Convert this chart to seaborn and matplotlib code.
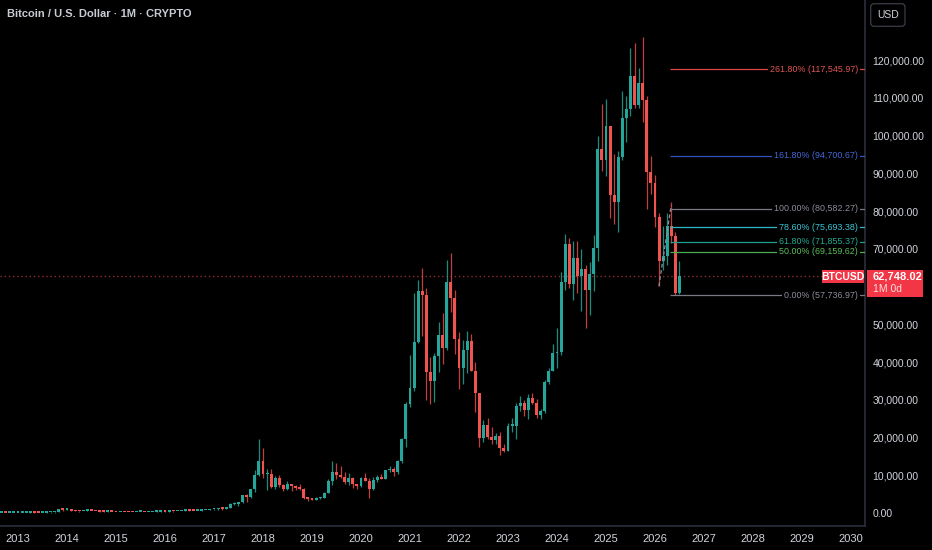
import numpy as np
import pandas as pd
import matplotlib
matplotlib.use("Agg")
import matplotlib.pyplot as plt
import matplotlib.transforms as mtransforms
from matplotlib.patches import Rectangle
import seaborn as sns

# monthly candles, Aug 2012 .. Jul 2026 (USD)
first_month = 2012 + 7 / 12
opens = [
    9.4, 10.1, 12.4, 11.2, 12.6,
    13.3, 20.4, 33.0, 93.0, 139, 129, 97, 106, 140, 141, 206, 1130,
    805, 829, 573, 457, 447, 628, 640, 587, 477, 388, 338, 378,
    318, 218, 254, 244, 236, 230, 264, 284, 230, 236, 314, 377,
    430, 368, 436, 416, 448, 531, 673, 624, 573, 609, 698, 743,
    963, 970, 1190, 1080, 1348, 2300, 2480, 2870, 4730, 4340, 6450, 10000,
    13860, 10220, 10330, 6930, 9240, 7500, 6400, 7730, 7040, 6630, 6370, 4040,
    3740, 3460, 3850, 4100, 5320, 8560, 10820, 10090, 9600, 8290, 9150, 7570,
    7190, 9350, 8540, 6410, 8640, 9450, 9140, 11350, 11660, 10780, 13800, 19700,
    28990, 33110, 45200, 58800, 57750, 37300, 35050, 41500, 47100, 43800, 61300, 57000,
    46200, 38500, 43200, 45500, 37700, 31800, 19900, 23300, 20050, 19430, 20500, 17160,
    16540, 23130, 23150, 28480, 29250, 27220, 30480, 29230, 25940, 26970, 34650, 37720,
    42280, 42580, 61130, 71330, 60640, 67500, 62700, 64600, 58970, 63300, 70200, 96400,
    93400, 102400, 84350, 82500, 94200, 104600, 107100, 115800, 108200, 114000, 109500, 90400,
    87500, 78400, 66800, 68000, 76000, 73400, 58300,
]
highs = [
    13.5, 12.9, 12.8, 13.2, 13.5,
    20.4, 33.0, 95, 266, 140, 129, 110, 140, 150, 213, 1163, 1163,
    1000, 869, 718, 542, 629, 680, 650, 600, 490, 415, 460, 384,
    318, 270, 300, 262, 248, 268, 320, 288, 246, 333, 502, 467,
    462, 446, 440, 468, 550, 780, 704, 626, 627, 720, 757, 975,
    1160, 1210, 1300, 1350, 2780, 3000, 2950, 4750, 5000, 6470, 11400, 19700,
    17180, 11780, 11700, 9770, 10000, 7770, 8500, 7760, 7410, 7680, 6590, 4250,
    4100, 4200, 4110, 5640, 9000, 13880, 13200, 12330, 10940, 10540, 9510, 7750,
    9580, 10500, 9190, 9460, 10080, 10380, 11450, 12470, 12080, 14100, 19850, 29300,
    41950, 58350, 61800, 64900, 59600, 41300, 42300, 50500, 52900, 67000, 69000, 59100,
    47990, 45800, 48200, 47500, 40000, 31900, 24700, 25200, 22800, 21100, 21480, 18400,
    23950, 25250, 29200, 31000, 29850, 31400, 31800, 30200, 27480, 35200, 38400, 44700,
    48970, 63900, 73800, 72800, 72000, 72000, 70000, 65600, 66500, 73600, 99800, 108300,
    109600, 102500, 95000, 95800, 111900, 110600, 123200, 124500, 117900, 126200, 110600, 94600,
    89500, 79500, 76000, 79500, 82500, 74500, 66800,
]
lows = [
    7.5, 9.8, 10.5, 10.5, 12.4,
    13.2, 19.6, 33.0, 50, 79, 88, 65, 100, 95, 104, 197, 455,
    750, 420, 450, 340, 421, 541, 565, 445, 375, 275, 323, 300,
    152, 210, 236, 200, 225, 219, 253, 195, 225, 235, 297, 350,
    350, 365, 393, 413, 437, 511, 606, 471, 565, 603, 674, 742,
    750, 915, 890, 1060, 1350, 2100, 1840, 2690, 2970, 4100, 5500, 9900,
    9400, 6000, 6600, 6430, 7000, 5790, 6070, 5880, 6100, 6100, 3600, 3120,
    3350, 3380, 3700, 4050, 5330, 7470, 9070, 9320, 7730, 7310, 6520, 6430,
    6870, 8460, 3850, 6150, 8120, 8950, 8980, 10990, 9880, 10370, 13200, 17600,
    28130, 32300, 45000, 47000, 30000, 28800, 29300, 37300, 39600, 43300, 53250, 42000,
    32900, 34300, 37200, 37600, 26700, 17600, 18800, 19600, 18150, 18200, 15480, 16250,
    16500, 21400, 19570, 26950, 25800, 24800, 28850, 25200, 24900, 26550, 34100, 37600,
    38500, 41880, 59000, 59600, 56500, 58400, 53500, 49000, 52500, 58900, 66800, 90500,
    89200, 78200, 76600, 74400, 93400, 98200, 105100, 107300, 107300, 103500, 80600, 84400,
    75800, 60100, 64400, 65700, 71500, 57737, 57900,
]
closes = [
    10.1, 12.4, 11.2, 12.6, 13.3,
    20.4, 33.0, 93.0, 139, 129, 97, 106, 140, 141, 206, 1130, 805,
    829, 573, 457, 447, 628, 640, 587, 477, 388, 338, 378, 318,
    218, 254, 244, 236, 230, 264, 284, 230, 236, 314, 377, 430,
    368, 436, 416, 448, 531, 673, 624, 573, 609, 698, 743, 963,
    970, 1190, 1080, 1348, 2300, 2480, 2870, 4730, 4340, 6450, 10000, 13860,
    10220, 10330, 6930, 9240, 7500, 6400, 7730, 7040, 6630, 6370, 4040, 3740,
    3460, 3850, 4100, 5320, 8560, 10820, 10090, 9600, 8290, 9150, 7570, 7190,
    9350, 8540, 6410, 8640, 9450, 9140, 11350, 11660, 10780, 13800, 19700, 28990,
    33110, 45200, 58800, 57750, 37300, 35050, 41500, 47100, 43800, 61300, 57000, 46200,
    38500, 43200, 45500, 37700, 31800, 19900, 23300, 20050, 19430, 20500, 17160, 16540,
    23130, 23150, 28480, 29250, 27220, 30480, 29230, 25940, 26970, 34650, 37720, 42280,
    42580, 61130, 71330, 60640, 67500, 62700, 64600, 58970, 63300, 70200, 96400, 93400,
    102400, 84350, 82500, 94200, 104600, 107100, 115800, 108200, 114000, 109500, 90400, 87500,
    78400, 66800, 68000, 76000, 73400, 58300, 62748.02,
]

fib_pcts = ["261.80%", "161.80%", "100.00%", "78.60%", "61.80%", "50.00%", "0.00%"]
fib_values = [117545.97, 94700.67, 80582.27, 75693.38, 71855.37, 69159.62, 57736.97]
fib_colors = ["#d84a4a", "#3452c0", "#787b86", "#2fb8c8", "#1f9f8f", "#4caf50", "#787b86"]
fib_text_colors = ["#e05555", "#4468d8", "#8c8f99", "#3ac6d6", "#22ab94", "#5cbf5c", "#8c8f99"]
fib_start = 2026.31
fib_anchor_x = [2026.08, 2026.33]
fib_anchor_y = [60100, 81500]

last_price = closes[-1]
year_ticks = list(range(2013, 2031))
price_ticks = list(range(0, 130000, 10000))
hidden_tick = 60000  # covered by the last-price label

df = pd.DataFrame({"open": opens, "high": highs, "low": lows, "close": closes})
df["t"] = first_month + np.arange(len(df)) / 12.0
df["up"] = df["close"] >= df["open"]

up_col, down_col = "#26a69a", "#f05350"
up_wick, down_wick = "#1c8a7e", "#c03f3f"

sns.set_theme(style="dark", rc={
    "axes.facecolor": "black", "figure.facecolor": "black",
    "axes.edgecolor": "#2a2e39", "text.color": "#d1d4dc",
    "xtick.color": "#d1d4dc", "ytick.color": "#d1d4dc",
})
plt.rcParams["font.family"] = ["Liberation Sans", "DejaVu Sans"]

fig = plt.figure(figsize=(9.32, 5.5), dpi=100)
ax = fig.add_axes([0, 24 / 550, 865 / 932, 526 / 550])
ax.set_facecolor("black")

ax.vlines(df["t"], df["low"], df["high"],
          colors=np.where(df["up"], up_wick, down_wick), lw=0.9, zorder=2)
body = (df["close"] - df["open"]).abs().clip(lower=420)
ax.bar(df["t"], body, bottom=df[["open", "close"]].min(axis=1), width=0.06,
       color=np.where(df["up"], up_col, down_col), linewidth=0, zorder=3)

ax.set_xlim(2012.633, 2030.286)
ax.set_ylim(-3440, 135900)

# current price line
ax.axhline(last_price, color="#c23a3a", lw=1, ls=(0, (1, 2)), alpha=0.75, zorder=1)

# fibonacci retracement
ax.plot(fib_anchor_x, fib_anchor_y, color="#8c8f99", lw=0.9, ls=(0, (3, 2)), zorder=4)
x_right = ax.get_xlim()[1]
for pct, val, lc, tc in zip(fib_pcts, fib_values, fib_colors, fib_text_colors):
    ax.hlines(val, fib_start, x_right, color=lc, lw=0.9, zorder=4)
    ax.text(2030.14, val, f"{pct} ({val:,.2f})", ha="right", va="center",
            fontsize=6.4, color=tc, zorder=5,
            bbox=dict(fc="black", ec="none", pad=1.2))

# axes cosmetics
for side in ["top", "left"]:
    ax.spines[side].set_visible(False)
ax.spines["right"].set_color("#2a2e39")
ax.spines["bottom"].set_color("#2a2e39")
ax.yaxis.tick_right()
ax.set_yticks(price_ticks)
ax.set_yticklabels(["" if v == hidden_tick else f"{v:,.2f}" for v in price_ticks],
                   fontsize=7.5)
ax.set_xticks(year_ticks)
ax.set_xticklabels([str(y) for y in year_ticks], fontsize=8)
ax.tick_params(axis="y", length=0, pad=5.5)
ax.tick_params(axis="x", length=0, pad=6)
ax.grid(False)

# price labels
blend = mtransforms.blended_transform_factory(ax.transAxes, ax.transData)
ax.add_patch(Rectangle((0.950, last_price - 1850), 0.0488, 3450, transform=blend,
                       fc="#f23645", ec="none", clip_on=False, zorder=6))
ax.text(0.9745, last_price - 150, "BTCUSD", transform=blend, ha="center", va="center",
        fontsize=7.5, color="white", fontweight="bold", zorder=7, clip_on=False)
ax.add_patch(Rectangle((1.002, last_price - 5500), 0.0647, 7100, transform=blend,
                       fc="#f23645", ec="none", clip_on=False, zorder=6))
ax.text(1.009, last_price - 150, f"{last_price:,.2f}", transform=blend, ha="left",
        va="center", fontsize=8, color="white", fontweight="bold", zorder=7, clip_on=False)
ax.text(1.009, last_price - 3500, "1M 0d", transform=blend, ha="left",
        va="center", fontsize=7.5, color="#fde0e0", zorder=7, clip_on=False)

fig.text(7 / 932, 1 - 14 / 550, "Bitcoin / U.S. Dollar · 1M · CRYPTO", ha="left",
         va="center", fontsize=8, color="#c8cbd3", fontweight="bold")
fig.text(877 / 932, 1 - 15 / 550, "USD", ha="left", va="center", fontsize=7.5,
         color="#d1d4dc",
         bbox=dict(boxstyle="round,pad=0.6,rounding_size=0.3", fc="black", ec="#434651", lw=0.8))

fig.savefig("out.png", dpi=100, facecolor="black")
